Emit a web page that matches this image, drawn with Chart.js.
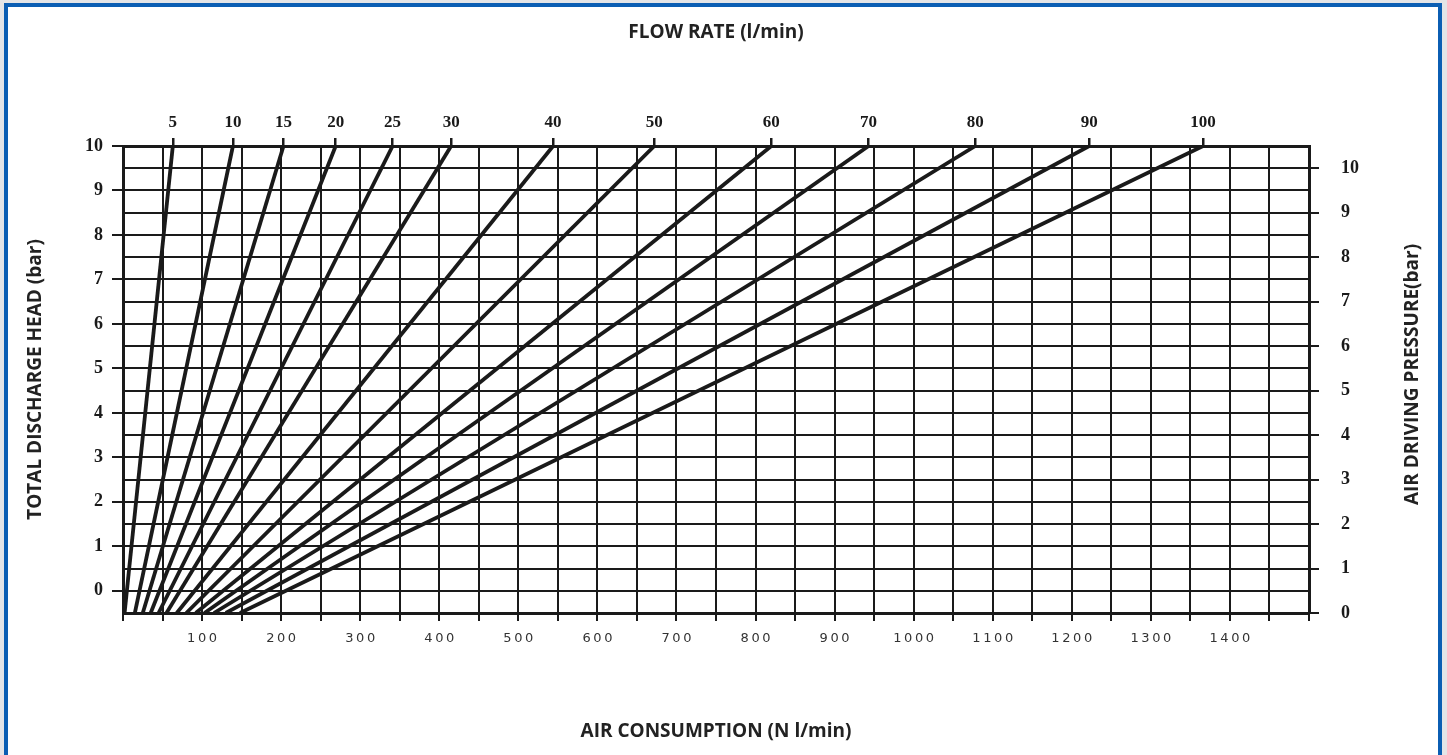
<!DOCTYPE html>
<html>
<head>
<meta charset="utf-8">
<script src="https://cdn.jsdelivr.net/npm/chart.js@4.4.1/dist/chart.umd.min.js"></script>
<style>
  html, body { margin: 0; padding: 0; background: #e4e5e7; overflow: hidden; }
  #frame { position: absolute; left: 4px; top: 3px; width: 1430px; height: 770px; border: 4px solid #0b5eb3; background: #fff; }
  #chart { position: absolute; left: 0; top: 0; }
</style>
</head>
<body>
<div id="frame"></div>
<canvas id="chart" width="1447" height="755"></canvas>
<script>
// flow rate curves (l/min), read as air consumption at lowest / highest head
const flowRates = [5, 10, 15, 20, 25, 30, 40, 50, 60, 70, 80, 90, 100];
const airAtHeadMin = [2, 15, 25, 35, 45, 55, 68, 80, 92, 103, 115, 130, 148];
const airAtHeadMax = [63, 139, 203, 269, 341, 415, 544, 672, 820, 943, 1078, 1222, 1366];
const headMin = -0.5;
const headMax = 10;

const headTicks = [0, 1, 2, 3, 4, 5, 6, 7, 8, 9, 10];
const pressureTicks = [0, 1, 2, 3, 4, 5, 6, 7, 8, 9, 10];
const airTicks = [100, 200, 300, 400, 500, 600, 700, 800, 900, 1000, 1100, 1200, 1300, 1400];

const ink = '#1a1a1a';
const titleFont = { family: 'Open Sans', size: 19, weight: 'bold' };
const serifFont = { family: 'Liberation Serif', size: 18, weight: 'bold' };

const datasets = flowRates.map((f, i) => ({
    label: f + ' l/min',
    data: [
        { x: airAtHeadMin[i], y: headMin },
        { x: airAtHeadMax[i], y: headMax }
    ],
    borderColor: ink,
    borderWidth: 3.8,
    pointRadius: 0,
    xAxisID: 'x',
    yAxisID: 'y'
}));

// right axis title reads bottom-to-top, chart.js would rotate it the other way
const rightTitle = {
    id: 'rightTitle',
    afterDraw(chart) {
        const { ctx, chartArea } = chart;
        ctx.save();
        ctx.translate(chart.width - 34, (chartArea.top + chartArea.bottom) / 2 - 5);
        ctx.rotate(-Math.PI / 2);
        ctx.font = 'bold 19px "Open Sans"';
        ctx.fillStyle = '#222';
        ctx.textAlign = 'center';
        ctx.textBaseline = 'middle';
        ctx.fillText('AIR DRIVING PRESSURE(bar)', 0, 0);
        ctx.restore();
    }
};

const ctx = document.getElementById('chart');
new Chart(ctx, {
    type: 'line',
    data: { datasets: datasets },
    plugins: [rightTitle],
    options: {
        responsive: false,
        animation: false,
        parsing: false,
        plugins: {
            legend: { display: false },
            tooltip: { enabled: false }
        },
        scales: {
            x: {
                type: 'linear',
                position: 'bottom',
                min: 0,
                max: 1500,
                ticks: {
                    stepSize: 50,
                    autoSkip: false,
                    maxRotation: 0,
                    padding: 10,
                    color: '#333',
                    font: { family: 'DejaVu Sans', size: 13 },
                    callback: (v) => airTicks.includes(v) ? String(v).split('').join('\u2009') : ''
                },
                grid: { color: ink, lineWidth: 2, tickLength: 8 },
                border: { color: ink, width: 3 },
                title: {
                    display: true,
                    text: 'AIR CONSUMPTION (N l/min)',
                    color: '#222',
                    font: titleFont,
                    padding: { top: 0, bottom: 12 }
                },
                afterFit: (s) => { s.height = 142; }
            },
            x2: {
                type: 'linear',
                position: 'top',
                min: 0,
                max: 1500,
                afterBuildTicks: (s) => { s.ticks = airAtHeadMax.map(v => ({ value: v })); },
                ticks: {
                    autoSkip: false,
                    maxRotation: 0,
                    padding: 5,
                    color: ink,
                    font: { family: 'Liberation Serif', size: 17, weight: 'bold' },
                    callback: (v, i) => flowRates[i]
                },
                grid: { drawOnChartArea: false, color: ink, lineWidth: 2.5, tickLength: 8 },
                border: { color: ink, width: 3 },
                title: {
                    display: true,
                    text: 'FLOW RATE (l/min)',
                    color: '#222',
                    font: titleFont,
                    padding: { top: 21, bottom: 0 }
                },
                afterFit: (s) => { s.height = 146; }
            },
            y: {
                type: 'linear',
                position: 'left',
                min: headMin,
                max: headMax,
                ticks: {
                    stepSize: 0.5,
                    autoSkip: false,
                    padding: 9,
                    color: ink,
                    font: serifFont,
                    callback: (v) => headTicks.includes(v) ? v : ''
                },
                grid: {
                    color: ink,
                    lineWidth: 2,
                    tickLength: 11,
                    tickColor: (c) => (c.tick && headTicks.includes(c.tick.value)) ? ink : 'rgba(0,0,0,0)'
                },
                border: { color: ink, width: 3 },
                title: {
                    display: true,
                    text: 'TOTAL DISCHARGE HEAD (bar)',
                    color: '#222',
                    font: titleFont,
                    padding: { top: 24, bottom: 0 }
                },
                afterFit: (s) => { s.width = 123; }
            },
            y2: {
                type: 'linear',
                position: 'right',
                min: 0,
                max: 10.5,
                afterBuildTicks: (s) => { s.ticks = pressureTicks.map(v => ({ value: v })); },
                ticks: {
                    autoSkip: false,
                    padding: 22,
                    color: ink,
                    font: serifFont
                },
                grid: { drawOnChartArea: false, color: ink, lineWidth: 2, tickLength: 10 },
                border: { color: ink, width: 3 },
                afterFit: (s) => { s.width = 138; }
            }
        }
    }
});
</script>
</body>
</html>
